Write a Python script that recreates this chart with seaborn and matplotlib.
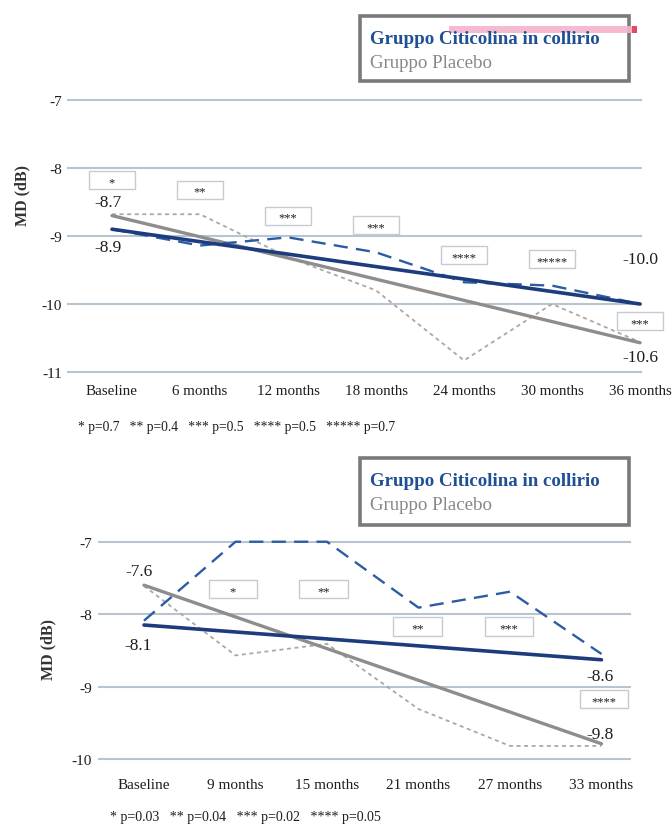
import pandas as pd
import matplotlib
matplotlib.use("Agg")
import matplotlib.pyplot as plt
import seaborn as sns
from matplotlib.patches import Rectangle

# ---- data: top panel ----
cat_top = ["Baseline", "6 months", "12 months", "18 months", "24 months", "30 months", "36 months"]
citi_top = [-8.9, -9.14, -9.02, -9.24, -9.68, -9.73, -10.0]
plac_top = [-8.68, -8.68, -9.31, -9.8, -10.83, -10.0, -10.56]
citi_trend_top = [-8.9, -10.0]
plac_trend_top = [-8.7, -10.57]
trend_lab_top = ["-8.7", "-8.9", "-10.0", "-10.6"]
stars_top = ["*", "**", "***", "***", "****", "*****", "***"]
foot_top = "* p=0.7   ** p=0.4   *** p=0.5   **** p=0.5   ***** p=0.7"

# ---- data: bottom panel ----
cat_bot = ["Baseline", "9 months", "15 months", "21 months", "27 months", "33 months"]
citi_bot = [-8.09, -7.0, -7.0, -7.91, -7.69, -8.55]
plac_bot = [-7.61, -8.57, -8.41, -9.31, -9.82, -9.82]
citi_trend_bot = [-8.15, -8.63]
plac_trend_bot = [-7.6, -9.79]
trend_lab_bot = ["-7.6", "-8.1", "-8.6", "-9.8"]
stars_bot = ["*", "**", "**", "***", "****"]
foot_bot = "* p=0.03   ** p=0.04   *** p=0.02   **** p=0.05"

legend_labels = ["Gruppo Citicolina in collirio", "Gruppo Placebo"]

# colours
C_DASH = "#2c5ca3"
C_TREND = "#1c3c7e"
C_PDOT = "#a8a8a8"
C_PTREND = "#8d8d8d"
C_GRID = "#b9c4d1"
C_TXT = "#1e1e1e"

sns.set_theme(style="white")
plt.rcParams["font.family"] = ["Liberation Serif", "DejaVu Serif"]

W, H = 672, 829
fig = plt.figure(figsize=(W / 100, H / 100), dpi=100)


def fx(px):
    return px / W


def fy(py):
    return 1 - py / H


def panel(ax, cats, citi, plac, citi_tr, plac_tr, labels, lab_pos, stars, box_pos,
          box_w, box_h, xlim, ylim, yticks, xpad, ypad, xfs):
    n = len(cats)
    df = pd.DataFrame({"x": range(n), "Citicolina": citi, "Placebo": plac})
    tr = pd.DataFrame({"x": [0, n - 1], "Citicolina": citi_tr, "Placebo": plac_tr})

    sns.lineplot(data=df, x="x", y="Placebo", ax=ax, color=C_PDOT, lw=1.3,
                 linestyle=(0, (2.2, 2.0)), zorder=3)
    sns.lineplot(data=tr, x="x", y="Placebo", ax=ax, color=C_PTREND, lw=2.4, zorder=4)
    sns.lineplot(data=df, x="x", y="Citicolina", ax=ax, color=C_DASH, lw=1.7,
                 linestyle=(0, (6, 3.5)), zorder=5)
    sns.lineplot(data=tr, x="x", y="Citicolina", ax=ax, color=C_TREND, lw=2.6, zorder=6)

    for (i, y), s in zip(box_pos, stars):
        ax.add_patch(Rectangle((i - box_w / 2, y - box_h / 2), box_w, box_h,
                               fc="white", ec="#c6cbd2", lw=1.0, zorder=7, clip_on=False))
        ax.text(i, y - 0.03, s, ha="center", va="center", fontsize=9,
                color=C_TXT, zorder=8, clip_on=False)

    for (i, y), t in zip(lab_pos, labels):
        ax.text(i, y, t, ha="center", va="center", fontsize=12.5, color=C_TXT, clip_on=False)

    ax.set_xlim(*xlim)
    ax.set_ylim(*ylim)
    ax.set_xticks(range(n))
    ax.set_xticklabels(cats, fontsize=xfs, color=C_TXT)
    ax.set_yticks(yticks)
    ax.set_yticklabels([str(v) for v in yticks], fontsize=11, color=C_TXT)
    ax.tick_params(axis="x", length=0, pad=xpad)
    ax.tick_params(axis="y", length=0, pad=ypad)
    ax.yaxis.grid(True, color=C_GRID, lw=1.5)
    ax.xaxis.grid(False)
    ax.set_axisbelow(True)
    ax.set_xlabel("")
    ax.set_ylabel("")
    sns.despine(ax=ax, left=True, bottom=True)


def legend_box(x0, y0, x1, y1):
    fig.add_artist(Rectangle((fx(x0), fy(y1)), fx(x1 - x0), (y1 - y0) / H,
                             transform=fig.transFigure, fc="white", ec="#7a7a7a", lw=2.6))
    fig.text(fx(x0 + 10), fy(y0 + 23), legend_labels[0], fontsize=13.6, fontweight="bold",
             color="#1f4f94", va="center", ha="left")
    fig.text(fx(x0 + 10), fy(y0 + 46), legend_labels[1], fontsize=13.6,
             color="#8a8683", va="center", ha="left")


# top panel: x 67..642 px, y 94..380 px
ax1 = fig.add_axes([fx(67.1), fy(379.8), fx(574.7), 285.6 / H])
panel(ax1, cat_top, citi_top, plac_top, citi_trend_top, plac_trend_top,
      trend_lab_top, [(-0.05, -8.5), (-0.05, -9.16), (6.0, -9.34), (6.0, -10.78)],
      stars_top, [(0, -8.18), (1, -8.32), (2, -8.7), (3, -8.84), (4, -9.28), (5, -9.34), (6, -10.25)],
      0.52, 0.265, (-0.51, 6.02), (-11.1, -6.9), [-7, -8, -9, -10, -11], 4.0, 3.6, 10.8)

# bottom panel: x 98..631 px, y 535..767 px
ax2 = fig.add_axes([fx(98.25), fy(767.2), fx(532.5), 231.7 / H])
panel(ax2, cat_bot, citi_bot, plac_bot, citi_trend_bot, plac_trend_bot,
      trend_lab_bot, [(-0.06, -7.4), (-0.06, -8.43), (4.98, -8.85), (4.98, -9.66)],
      stars_bot, [(0.97, -7.65), (1.96, -7.65), (2.99, -8.17), (3.99, -8.17), (5.03, -9.17)],
      0.53, 0.25, (-0.5, 5.32), (-10.1, -6.9), [-7, -8, -9, -10], 8.5, 4.7, 11)

# y labels
fig.text(fx(22), fy(196), "MD (dB)", rotation=90, fontsize=11.5, fontweight="bold",
         color="#333333", ha="center", va="center")
fig.text(fx(48), fy(650), "MD (dB)", rotation=90, fontsize=11.5, fontweight="bold",
         color="#333333", ha="center", va="center")

# legends
legend_box(360, 17, 629, 82)
legend_box(360, 459, 629, 526)

# pink highlight over the first legend
fig.add_artist(Rectangle((fx(449), fy(34)), fx(183), 7 / H, transform=fig.transFigure,
                         fc="#f4b3cb", ec="none", alpha=0.9))
fig.add_artist(Rectangle((fx(632), fy(34)), fx(5), 7 / H, transform=fig.transFigure,
                         fc="#e14a63", ec="none"))

# footnotes
fig.text(fx(78), fy(427), foot_top, fontsize=9.8, color=C_TXT, ha="left", va="center")
fig.text(fx(110), fy(818), foot_bot, fontsize=10.1, color=C_TXT, ha="left", va="center")

fig.savefig("out.png", dpi=100)
